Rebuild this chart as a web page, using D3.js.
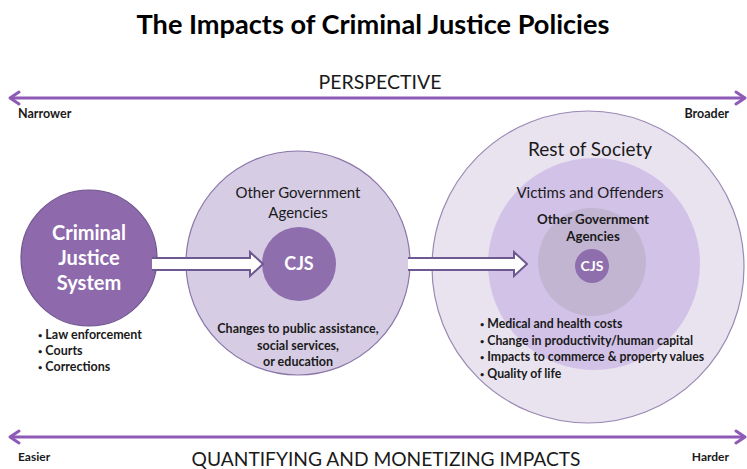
<!DOCTYPE html>
<html>
<head>
<meta charset="utf-8">
<script src="https://cdn.jsdelivr.net/npm/d3@7"></script>
<style>
  html, body { margin: 0; padding: 0; background: #fff; }
  svg { display: block; font-family: Lato, "Open Sans", sans-serif; }
</style>
</head>
<body>
<svg id="chart" width="747" height="469"></svg>
<script>
const title = "The Impacts of Criminal Justice Policies";
const topAxis = { label: "PERSPECTIVE", left: "Narrower", right: "Broader" };
const bottomAxis = { label: "QUANTIFYING AND MONETIZING IMPACTS", left: "Easier", right: "Harder" };

const cjsLines = ["Criminal", "Justice", "System"];
const cjsBullets = ["Law enforcement", "Courts", "Corrections"];
const agencyLines = ["Other Government", "Agencies"];
const agencyNotes = ["Changes to public assistance,", "social services,", "or education"];
const societyLabels = ["Rest of Society", "Victims and Offenders"];
const societyBullets = [
  "Medical and health costs",
  "Change in productivity/human capital",
  "Impacts to commerce & property values",
  "Quality of life",
];

const svg = d3.select("#chart");
const purple = "#8e5ab6";
const dark = "#1a1a1a";

// fit a text to a target width by adjusting font size
const fitWidth = (sel, w) => {
  const len = sel.node().getComputedTextLength();
  const fs = parseFloat(sel.attr("font-size"));
  sel.attr("font-size", (fs * w / len).toFixed(2));
};

// title
svg.append("text")
  .attr("x", 373).attr("y", 34)
  .attr("text-anchor", "middle")
  .attr("font-size", 24).attr("font-weight", 700).attr("fill", "#000")
  .text(title)
  .call(fitWidth, 473);

// double arrows
const x = d3.scaleLinear().domain([0, 1]).range([10, 745]);
const drawAxis = (y, cfg, labelY, sideY, labelSize) => {
  const g = svg.append("g");
  g.append("line")
    .attr("x1", x(0) + 1).attr("x2", x(1) - 1)
    .attr("y1", y).attr("y2", y)
    .attr("stroke", purple).attr("stroke-width", 3);
  [[x(0), 1], [x(1), -1]].forEach(([px, dir]) => {
    g.append("path")
      .attr("d", `M${px + dir * 9},${y - 6} L${px},${y} L${px + dir * 9},${y + 6}`)
      .attr("fill", "none").attr("stroke", purple).attr("stroke-width", 3)
      .attr("stroke-linecap", "round").attr("stroke-linejoin", "round");
  });
  g.append("text")
    .attr("x", cfg.cx).attr("y", labelY)
    .attr("text-anchor", "middle").attr("font-size", labelSize).attr("fill", dark)
    .text(cfg.label);
  g.append("text")
    .attr("x", 18).attr("y", sideY)
    .attr("font-size", cfg.sideSize).attr("font-weight", 700).attr("fill", dark)
    .text(cfg.left);
  g.append("text")
    .attr("x", 729).attr("y", sideY)
    .attr("text-anchor", "end")
    .attr("font-size", cfg.sideSize).attr("font-weight", 700).attr("fill", dark)
    .text(cfg.right);
};
drawAxis(98, { ...topAxis, cx: 380, sideSize: 12.5 }, 89, 118, 19.5);
drawAxis(437, { ...bottomAxis, cx: 386, sideSize: 12 }, 466, 461, 19.2);

// block arrows
const blockArrow = (x0, x1, cy) => {
  const hh = 6, head = 13, hw = 12;
  const p = d3.path();
  p.moveTo(x0, cy - hh);
  p.lineTo(x1 - head, cy - hh);
  p.lineTo(x1 - head, cy - hw);
  p.lineTo(x1, cy);
  p.lineTo(x1 - head, cy + hw);
  p.lineTo(x1 - head, cy + hh);
  p.lineTo(x0, cy + hh);
  svg.append("path").attr("d", p.toString())
    .attr("fill", "#fff").attr("stroke", "#6d5890").attr("stroke-width", 2);
};

const circle = (cx, cy, r, fill, stroke) =>
  svg.append("circle").attr("cx", cx).attr("cy", cy).attr("r", r)
    .attr("fill", fill).attr("stroke", stroke || "none").attr("stroke-width", 1.2);

// right group: concentric circles
circle(588, 267, 156, "#e9e3f0", "#9a89b3");
circle(594, 264, 106, "#d2c2e8");
circle(592, 262, 54, "#c2b5d2");
circle(592, 266, 17, "#8f6eae");

// middle group
circle(298, 263, 112, "#d6cde4", "#8b76aa");
circle(299, 264, 37, "#8f6eae");

// left
circle(89, 258, 68, "#8e6aad", "#6f558f");

blockArrow(152, 263, 264);
blockArrow(408, 527, 264);

const addLines = (lines, cx, y0, dy, opts) => {
  lines.forEach((t, i) => {
    const txt = svg.append("text")
      .attr("x", cx).attr("y", y0 + i * dy)
      .attr("text-anchor", opts.anchor || "middle")
      .attr("font-size", opts.size)
      .attr("font-weight", opts.weight || 400)
      .attr("fill", opts.fill || dark);
    if (opts.bullet) {
      txt.append("tspan").attr("font-size", opts.size * 0.6).attr("dy", -1).text("\u2022");
      txt.append("tspan").attr("dy", 1).attr("dx", 3).text(t);
    } else {
      txt.text(t);
    }
  });
};

addLines(cjsLines, 89, 240, 25, { size: 20, weight: 700, fill: "#fff" });
addLines(cjsBullets, 38, 339, 16, { size: 12.5, weight: 700, anchor: "start", bullet: true });

addLines(agencyLines, 298, 198, 20, { size: 15 });
addLines(["CJS"], 299, 270, 0, { size: 18, weight: 700, fill: "#fff" });
addLines(agencyNotes, 298, 333, 16.5, { size: 12.5, weight: 700 });

addLines([societyLabels[0]], 590, 156, 0, { size: 19 });
addLines([societyLabels[1]], 590, 198, 0, { size: 15 });
addLines(agencyLines, 593, 224, 17, { size: 13.3, weight: 700 });
addLines(["CJS"], 592, 271, 0, { size: 14, weight: 700, fill: "#fff" });
addLines(societyBullets, 480, 328, 16.5, { size: 12.3, weight: 700, anchor: "start", bullet: true });
</script>
</body>
</html>
